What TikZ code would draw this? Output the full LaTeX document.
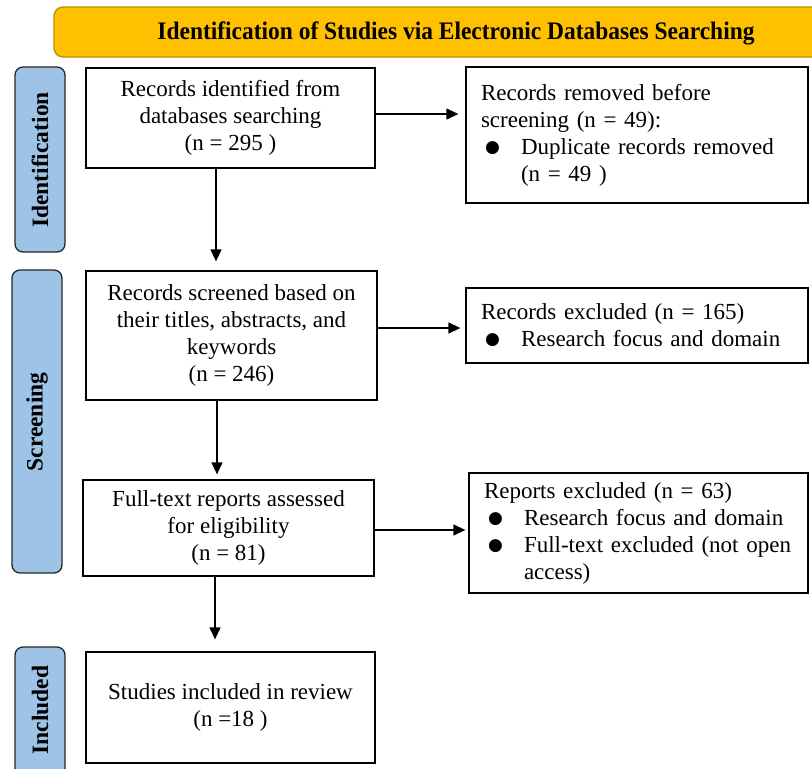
\documentclass[tikz,border=0pt]{standalone}
\usepackage{fontspec}
\setmainfont{Liberation Serif}
\newfontfamily\dvfont{DejaVu Sans}
\usetikzlibrary{arrows.meta}
\definecolor{bannerfill}{HTML}{FFC000}
\definecolor{bannerdraw}{HTML}{BF9000}
\definecolor{sidefill}{HTML}{9DC3E6}
\definecolor{sidedraw}{HTML}{262626}
\newcommand{\bul}{\makebox[40pt][l]{\hspace{4pt}\raisebox{2pt}{\dvfont\fontsize{17}{17}\selectfont ●}}}
\begin{document}
\begin{tikzpicture}[x=1pt,y=-1pt,
  box/.style={draw=black, line width=1.3pt, inner sep=0pt, align=center, font=\fontsize{23}{27}\selectfont},
  rbox/.style={draw=black, line width=1.3pt, inner xsep=15pt, inner ysep=0pt, align=left, font=\fontsize{23}{27}\selectfont},
  side/.style={draw=sidedraw, line width=1.3pt, fill=sidefill, rounded corners=8pt},
  sidetext/.style={rotate=90, font=\fontsize{23.5}{26}\selectfont\bfseries},
  arr/.style={-{Triangle[length=12pt,width=11pt]}, line width=1.3pt}]
\useasboundingbox (0,0) rectangle (812,769);
\clip (0,0) rectangle (812,769);
% banner
\draw[draw=bannerdraw, line width=1.3pt, fill=bannerfill, rounded corners=9pt] (54,7) rectangle (840,57);
\node[font=\fontsize{24}{28}\selectfont\bfseries, yscale=1.05, xscale=0.977] (title) at (456,33) {Identification of Studies via Electronic Databases Searching};
% side labels
\draw[side] (15,67) rectangle (65,252);
\node[sidetext] (sid) at (40,160) {Identification};
\draw[side] (12,270) rectangle (62,573);
\node[sidetext] (sscr) at (37,422) {Screening};
\draw[side] (15,647) rectangle (65,790);
\node[sidetext] (sinc) at (40,710) {Included};
% main boxes
\node[box, minimum width=289pt, minimum height=100pt] (b1) at (230.5,118) {Records identified from\\databases searching\\(n = 295 )};
\node[box, minimum width=291pt, minimum height=129pt] (b2) at (231.5,335.5) {Records screened based on\\their titles, abstracts, and\\keywords\\(n = 246)};
\node[box, minimum width=291pt, minimum height=96pt] (b3) at (228.5,528) {Full-text reports assessed\\for eligibility\\(n = 81)};
\node[box, minimum width=289pt, minimum height=111pt] (b4) at (230.5,707.5) {Studies included in review\\(n =18 )};
% right boxes
\node[rbox, text width=312pt, minimum height=136pt] (r1) at (637,135) {Records removed before\\screening (n = 49):\\\bul Duplicate records removed\\\hspace*{40pt}(n = 49 )};
\node[rbox, text width=312pt, minimum height=75pt] (r2) at (637,325.5) {Records excluded (n = 165)\\\bul Research focus and domain};
\node[rbox, text width=309pt, minimum height=120pt] (r3) at (638.5,533) {Reports excluded (n = 63)\\\bul Research focus and domain\\\bul Full-text excluded (not open\\\hspace*{40pt}access)};
% helper coordinates
\coordinate (v1) at (216,0);
\coordinate (v2) at (217,0);
\coordinate (v3) at (215,0);
\coordinate (h1) at (0,114);
\coordinate (h2) at (0,328);
\coordinate (h3) at (0,530);
% arrows
\draw[arr, shorten >=9pt] (b1.south -| v1) -- (b2.north -| v1);
\draw[arr, shorten >=5pt] (b2.south -| v2) -- (b3.north -| v2);
\draw[arr, shorten >=12pt] (b3.south -| v3) -- (b4.north -| v3);
\draw[arr, shorten >=7pt] (b1.east |- h1) -- (r1.west |- h1);
\draw[arr, shorten >=5pt] (b2.east |- h2) -- (r2.west |- h2);
\draw[arr, shorten >=3pt] (b3.east |- h3) -- (r3.west |- h3);
\end{tikzpicture}
\end{document}
